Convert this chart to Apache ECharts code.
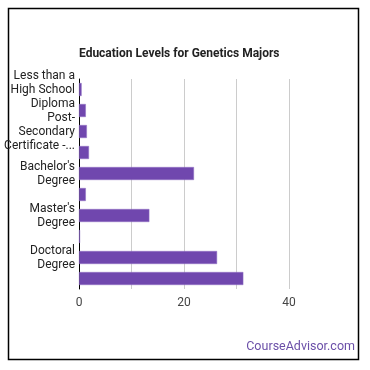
<!DOCTYPE html>
<html>
<head>
<meta charset="utf-8">
<script src="https://cdn.jsdelivr.net/npm/echarts@6/dist/echarts.min.js"></script>
<style>
html,body{margin:0;padding:0;background:#fff;}
#chart{width:370px;height:370px;}
</style>
</head>
<body>
<div id="chart"></div>
<script>
const categories = [
  "Less than a High School Diploma",
  "High School Diploma",
  "Post-Secondary Certificate - Awarded for training completed after high school",
  "Associate's Degree",
  "Bachelor's Degree",
  "Post-Baccalaureate Certificate",
  "Master's Degree",
  "Post-Master's Certificate",
  "Doctoral Degree",
  "Post-Doctoral Training"
];
const values = [0.5, 1.3, 1.5, 1.9, 21.9, 1.3, 13.4, 0.2, 26.3, 31.3];
const xTicks = [0, 20, 40];
const titleText = "Education Levels for Genetics Majors";
const brandText = "CourseAdvisor.com";

const FONT = "Roboto, 'Noto Sans', sans-serif";
const measureCtx = document.createElement('canvas').getContext('2d');
measureCtx.font = "12px " + FONT;
function wrapLabel(text) {
  const maxW = 66, maxLines = 3;
  const tokens = [];
  text.split(' ').forEach(function (w) {
    const parts = w.split(/(?<=-)(?=.)/);
    parts.forEach(function (p, i) { tokens.push({t: p, sp: i === 0}); });
  });
  const lines = [];
  let cur = '';
  let i = 0;
  for (; i < tokens.length; i++) {
    const tk = tokens[i];
    const cand = cur === '' ? tk.t : cur + (tk.sp ? ' ' : '') + tk.t;
    if (measureCtx.measureText(cand).width <= maxW || cur === '') {
      cur = cand;
    } else {
      lines.push(cur);
      if (lines.length === maxLines) { break; }
      cur = tk.t;
    }
  }
  if (lines.length < maxLines && cur !== '') { lines.push(cur); }
  else if (lines.length === maxLines && i < tokens.length) {
    lines[maxLines - 1] = lines[maxLines - 1] + '...';
  }
  return lines.join('\n');
}

const chart = echarts.init(document.getElementById('chart'), null, {renderer: 'canvas'});
chart.setOption({
  animation: false,
  backgroundColor: '#fff',
  title: {
    text: titleText,
    left: 79,
    top: 48,
    padding: 0,
    textStyle: {fontSize: 12, fontWeight: 'bold', color: '#222', fontFamily: FONT}
  },
  grid: {left: 79, top: 79, width: 210, height: 210, containLabel: false},
  xAxis: {
    type: 'value',
    min: 0,
    max: 40,
    interval: 10,
    axisLine: {show: false},
    axisTick: {show: false},
    splitLine: {show: true, lineStyle: {color: '#cccccc', width: 1}},
    axisLabel: {
      color: '#444',
      fontSize: 12,
      fontFamily: FONT,
      margin: 8,
      formatter: function (v) { return xTicks.indexOf(v) >= 0 ? String(v) : ''; }
    }
  },
  yAxis: {
    type: 'category',
    data: categories,
    inverse: true,
    axisLine: {show: true, lineStyle: {color: '#000', width: 1}},
    axisTick: {show: false},
    axisLabel: {
      interval: 1,
      align: 'right',
      color: '#222',
      fontSize: 12,
      lineHeight: 14,
      fontFamily: FONT,
      margin: 4,
      formatter: function (v) { return wrapLabel(v); }
    }
  },
  series: [{
    type: 'bar',
    data: values,
    barWidth: 13,
    itemStyle: {color: '#7047ae', borderColor: '#9072c4', borderWidth: 0.5}
  }],
  graphic: [
    {
      type: 'rect',
      shape: {x: 8.5, y: 8.5, width: 350, height: 351},
      style: {fill: 'none', stroke: '#000', lineWidth: 1.5},
      silent: true
    },
    {
      type: 'text',
      right: 15,
      top: 340,
      style: {text: brandText, fill: '#6b4fa8', font: '12.5px ' + FONT}
    }
  ]
});
</script>
</body>
</html>
